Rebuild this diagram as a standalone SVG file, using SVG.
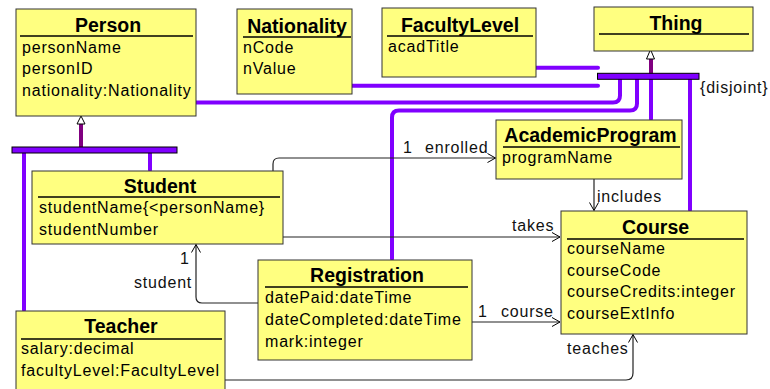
<svg xmlns="http://www.w3.org/2000/svg" width="770" height="389" viewBox="0 0 770 389">
<defs>
<marker id="open" viewBox="-10 -6 12 12" refX="0" refY="0" markerWidth="12" markerHeight="12" markerUnits="userSpaceOnUse" orient="auto">
<path d="M-8,-4.5 L0,0 L-8,4.5" fill="none" stroke="#000" stroke-width="1"/>
</marker>
</defs>
<style>
.box{fill:#FFFF80;stroke:#333;stroke-width:1}
.title{font-family:"Liberation Sans",Arial,sans-serif;font-weight:bold;font-size:19.5px;text-anchor:middle;fill:#000}
.attr{font-family:"Liberation Sans",Arial,sans-serif;font-size:16px;letter-spacing:0.8px;fill:#000}
.lbl{font-family:"Liberation Sans",Arial,sans-serif;font-size:16px;letter-spacing:0.8px;fill:#111}
.sep{stroke:#000;stroke-width:1.5}
.assoc{fill:none;stroke:#222;stroke-width:1.2}
.gen{fill:none;stroke:#8000FF;stroke-width:4;stroke-linecap:round}
.genstem{fill:none;stroke:#800080;stroke-width:4}
.bar{fill:#8000FF;stroke:#000;stroke-width:1}
.tri{fill:#fff;stroke:#000;stroke-width:1}
</style>
<rect width="770" height="389" fill="#fff"/>

<g id="connectors">
<!-- Person generalization -->
<line class="genstem" x1="81" y1="123" x2="81" y2="148"/>
<line class="gen" x1="24" y1="153" x2="24" y2="310"/>
<line class="gen" x1="150" y1="153" x2="150" y2="170"/>
<rect class="bar" x="12" y="147" width="165" height="6"/>
<polygon class="tri" points="81,116 85,124 77,124"/>
<!-- Thing generalization -->
<line class="gen" x1="536" y1="67.7" x2="598" y2="67.7"/>
<line class="gen" x1="352" y1="85.7" x2="598" y2="85.7"/>
<path class="gen" d="M620,79 V95.5 Q620,102.5 613,102.5 H195"/>
<path class="gen" d="M637,79 V103.5 Q637,110.5 630,110.5 H399 Q392,110.5 392,117.5 V259"/>
<line class="gen" x1="651" y1="79" x2="651" y2="119"/>
<line class="gen" x1="690" y1="79" x2="690" y2="210"/>
<line class="genstem" x1="651" y1="58" x2="651" y2="74"/>
<rect class="bar" x="597.5" y="73.3" width="101.5" height="6"/>
<polygon class="tri" points="650.5,49.5 654.5,59 646.5,59"/>
<text class="lbl" x="700" y="93">{disjoint}</text>
<!-- enrolled -->
<path class="assoc" d="M273,171 V164 Q273,158 279,158 H495.5" marker-end="url(#open)"/>
<text class="lbl" x="403" y="153">1</text>
<text class="lbl" x="425" y="153">enrolled</text>
<!-- includes -->
<path class="assoc" d="M594,179 V210.5" marker-end="url(#open)"/>
<text class="lbl" x="597" y="202">includes</text>
<!-- takes -->
<path class="assoc" d="M283,237 H560" marker-end="url(#open)"/>
<text class="lbl" x="512" y="231">takes</text>
<!-- student -->
<path class="assoc" d="M258,303 H202 Q196,303 196,297 V244.5" marker-end="url(#open)"/>
<text class="lbl" x="180" y="264">1</text>
<text class="lbl" x="134" y="288">student</text>
<!-- course -->
<path class="assoc" d="M472,322 H560" marker-end="url(#open)"/>
<text class="lbl" x="478" y="317">1</text>
<text class="lbl" x="501" y="317">course</text>
<!-- teaches -->
<path class="assoc" d="M225,380 H626 Q633,380 633,373 V334.5" marker-end="url(#open)"/>
<text class="lbl" x="567" y="354">teaches</text>
</g>

<g id="Person">
<rect class="box" x="16" y="9" width="180" height="107"/>
<text class="title" x="108" y="32">Person</text>
<line class="sep" x1="20" y1="36" x2="193" y2="36"/>
<text class="attr" x="22" y="52.5">personName</text>
<text class="attr" x="22" y="74">personID</text>
<text class="attr" x="22" y="95.5">nationality:Nationality</text>
</g>

<g id="Nationality">
<rect class="box" x="237" y="9" width="115" height="85"/>
<text class="title" x="297" y="33">Nationality</text>
<line class="sep" x1="243" y1="37" x2="351" y2="37"/>
<text class="attr" x="243" y="53">nCode</text>
<text class="attr" x="243" y="74">nValue</text>
</g>

<g id="FacultyLevel">
<rect class="box" x="382" y="8" width="154" height="69"/>
<text class="title" x="460" y="32">FacultyLevel</text>
<line class="sep" x1="387" y1="36" x2="533" y2="36"/>
<text class="attr" x="388" y="52">acadTitle</text>
</g>

<g id="Thing">
<rect class="box" x="594" y="7" width="159" height="44"/>
<text class="title" x="676" y="30">Thing</text>
<line class="sep" x1="599" y1="34" x2="749" y2="34"/>
</g>

<g id="AcademicProgram">
<rect class="box" x="496" y="120" width="186" height="59"/>
<text class="title" x="590.5" y="142">AcademicProgram</text>
<line class="sep" x1="503" y1="147" x2="680" y2="147"/>
<text class="attr" x="502" y="162.5">programName</text>
</g>

<g id="Student">
<rect class="box" x="32" y="171" width="251" height="73"/>
<text class="title" x="160" y="193">Student</text>
<line class="sep" x1="38" y1="197" x2="280" y2="197"/>
<text class="attr" x="39" y="213">studentName{&lt;personName}</text>
<text class="attr" x="39" y="235">studentNumber</text>
</g>

<g id="Course">
<rect class="box" x="561" y="211" width="186" height="123"/>
<text class="title" x="655.5" y="234">Course</text>
<line class="sep" x1="567" y1="239" x2="744" y2="239"/>
<text class="attr" x="567" y="254">courseName</text>
<text class="attr" x="567" y="276">courseCode</text>
<text class="attr" x="567" y="297">courseCredits:integer</text>
<text class="attr" x="567" y="318.5">courseExtInfo</text>
</g>

<g id="Registration">
<rect class="box" x="258" y="260" width="214" height="100"/>
<text class="title" x="367" y="282">Registration</text>
<line class="sep" x1="265" y1="287" x2="468" y2="287"/>
<text class="attr" x="265" y="302.7">datePaid:dateTime</text>
<text class="attr" x="265" y="324.5">dateCompleted:dateTime</text>
<text class="attr" x="265" y="346.5">mark:integer</text>
</g>

<g id="Teacher">
<rect class="box" x="16" y="311" width="209" height="85"/>
<text class="title" x="121" y="333">Teacher</text>
<line class="sep" x1="21" y1="339" x2="222" y2="339"/>
<text class="attr" x="21" y="354">salary:decimal</text>
<text class="attr" x="21" y="375.5">facultyLevel:FacultyLevel</text>
</g>
</svg>
